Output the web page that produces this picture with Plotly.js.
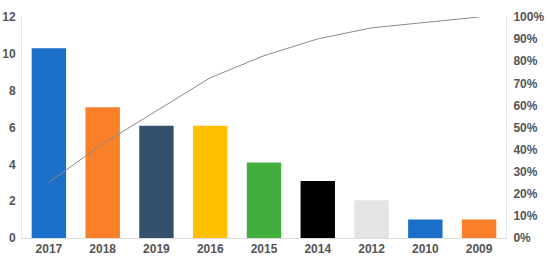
<!DOCTYPE html>
<html>
<head>
<meta charset="utf-8">
<script src="https://cdn.plot.ly/plotly-3.0.1.min.js"></script>
<style>
  html, body { margin: 0; padding: 0; background: #fff; }
  #chart { width: 550px; height: 265px; }
</style>
</head>
<body>
<div id="chart"></div>
<script>
const years = ["2017", "2018", "2019", "2016", "2015", "2014", "2012", "2010", "2009"];
const counts = [10.3, 7.1, 6.1, 6.1, 4.1, 3.1, 2.05, 1.0, 1.0];
const cumulative = [0.252, 0.426, 0.575, 0.725, 0.825, 0.901, 0.951, 0.976, 1.0];
const barColors = ["#1b6fc8", "#f97f28", "#35506d", "#ffc000", "#43ad3e", "#000000", "#e4e4e4", "#1b6fc8", "#f97f28"];

const tickFont = { family: "Liberation Sans, Arial, sans-serif", size: 12, color: "#555555", weight: "bold" };

const datos = [
  {
    type: "bar",
    x: years,
    y: counts,
    marker: { color: barColors },
    hoverinfo: "x+y"
  },
  {
    type: "scatter",
    mode: "lines",
    x: years,
    y: cumulative,
    yaxis: "y2",
    line: { color: "#8a8a8a", width: 1 },
    hoverinfo: "x+y"
  }
];

const layout = {
  width: 550,
  height: 265,
  margin: { l: 22, r: 44, t: 17, b: 27 },
  paper_bgcolor: "#fff",
  plot_bgcolor: "#fff",
  showlegend: false,
  bargap: 0.36,
  xaxis: {
    type: "category",
    tickfont: tickFont,
    showgrid: false,
    showline: true,
    linecolor: "#dddddd",
    linewidth: 1,
    ticks: "",
    zeroline: false
  },
  yaxis: {
    range: [0, 12],
    dtick: 2,
    tickfont: tickFont,
    showgrid: false,
    showline: true,
    linecolor: "#e6e6e6",
    zeroline: false,
    ticks: "",
    ticklabelstandoff: 3
  },
  yaxis2: {
    overlaying: "y",
    side: "right",
    range: [0, 1],
    dtick: 0.1,
    tickformat: ".0%",
    tickfont: tickFont,
    showgrid: false,
    showline: true,
    linecolor: "#e6e6e6",
    zeroline: false,
    ticks: "",
    ticklabelstandoff: 4
  }
};

Plotly.newPlot("chart", datos, layout, { displayModeBar: false, staticPlot: true });
</script>
</body>
</html>
